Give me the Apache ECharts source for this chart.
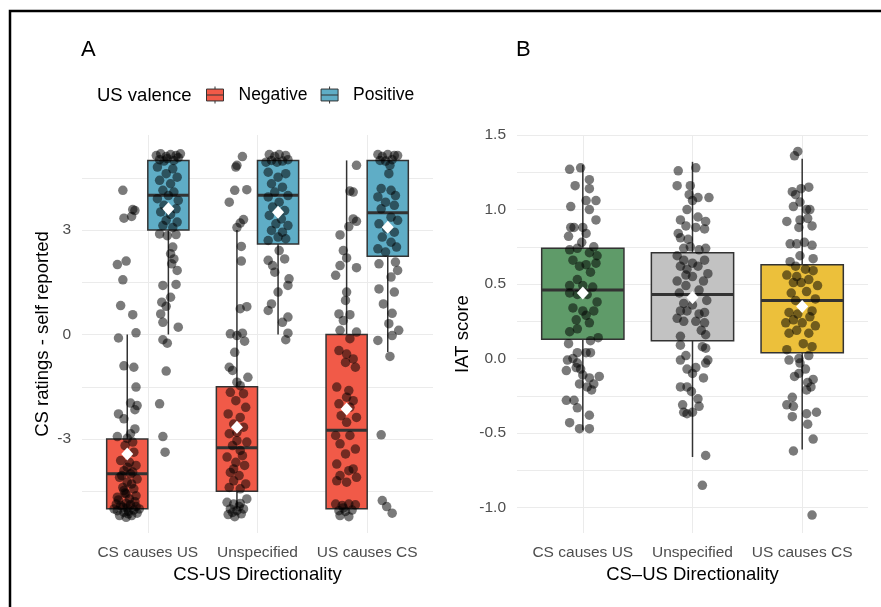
<!DOCTYPE html>
<html>
<head>
<meta charset="utf-8">
<script src="https://cdn.jsdelivr.net/npm/echarts@6/dist/echarts.min.js"></script>
<style>
  html, body { margin: 0; padding: 0; background: #fff; }
  #chart { width: 881px; height: 607px; }
</style>
</head>
<body>
<div id="chart"></div>
<script>
var myChart = echarts.init(document.getElementById('chart'));
var FONT = 'Liberation Sans, Arial, sans-serif';

var categories = ['CS causes US', 'Unspecified', 'US causes CS'];
var valence = ['Negative', 'Positive'];

// panel A boxes: [min, Q1, median, Q3, max] per category
var boxNeg = [[-5, -5, -4, -3, 0], [-5, -4.5, -3.25, -1.5, 3], [-5, -5, -2.75, 0, 5]];
var boxPos = [[0, 3, 4, 5, 5], [0, 2.6, 4, 5, 5], [-0.5, 2.25, 3.5, 5, 5]];
var meanNeg = [-3.43, -2.66, -2.14];
var meanPos = [3.61, 3.51, 3.08];

// panel B boxes
var boxIAT = [[-0.48, 0.13, 0.46, 0.74, 1.30], [-0.66, 0.12, 0.43, 0.71, 1.32], [-0.61, 0.04, 0.39, 0.63, 1.34]];
var meanIAT = [0.44, 0.41, 0.35];

// jittered observations: [x jitter, value]
var ptsNeg = [
  [[-0.04,4.14],[0.05,3.59],[0.07,3.56],[-0.03,3.34],[0.04,3.39],[-0.09,2.01],[-0.01,2.11],[-0.04,1.57],[-0.06,0.83],[0.05,0.57],[-0.08,-0.10],[0.08,0.05],
   [-0.03,-0.90],[0.06,-0.94],[0.08,-1.51],[0.03,-1.97],[0.09,-2.04],[0.07,-2.16],[-0.08,-2.28],[-0.03,-2.42],[0.07,-2.71],[0.03,-2.85],[-0.09,-2.93],[0,-2.98],
   [0.05,-3.09],[-0.02,-3.19],[0.06,-3.38],[-0.06,-3.62],[0.02,-3.67],[0.08,-3.76],[-0.03,-3.91],[0.03,-4.00],[-0.07,-4.10],[0.09,-4.15],[0,-4.24],[-0.04,-4.39],
   [0.06,-4.43],[-0.01,-4.58],[-0.09,-4.67],[0.08,-4.63],[-0.10,-4.87],[-0.06,-4.91],[-0.01,-4.85],[0.03,-4.89],[0.08,-4.94],[0.11,-5.01],[-0.09,-5.06],
   [-0.03,-5.11],[0.01,-5.08],[0.06,-5.04],[-0.07,-5.20],[-0.01,-5.25],[0.04,-5.20],[0.09,-5.13],[-0.04,-4.96],[0,-4.98],[-0.12,-5.01],[0,-3.81],[0.04,-4.29],
   [-0.03,-4.48],[0.02,-4.72],[-0.05,-4.05],[0.05,-3.95],[-0.02,-4.55],[0.07,-4.80],[-0.08,-4.75],[0.01,-5.15]],
  [[0.05,5.11],[0,4.86],[-0.01,4.81],[-0.02,4.14],[0.09,4.16],[-0.07,3.80],[0.06,3.30],[0.03,3.20],[0,3.07],[0.04,2.53],[0.04,2.11],[0.09,0.80],[0.03,0.74],
   [-0.06,0.02],[0,-0.03],[0.05,0.04],[0.07,-0.19],[-0.02,-0.51],[-0.07,-0.94],[-0.04,-1.03],[0.10,-1.23],[0.03,-1.47],[0,-1.37],
   [-0.06,-1.66],[0.06,-1.70],[-0.01,-1.90],[0.08,-2.09],[-0.08,-2.28],[0.03,-2.38],[-0.03,-2.57],[0.06,-2.66],[-0.07,-2.85],[0,-2.81],[0.09,-3.09],[-0.04,-3.19],
   [0.03,-3.33],[-0.09,-3.52],[-0.01,-3.67],[0.07,-3.76],[-0.06,-3.96],[0.02,-4.05],[-0.03,-4.20],[0.08,-4.29],[-0.07,-4.39],[0.03,-4.43],[0,-3.05],[0.05,-3.48],
   [-0.03,-3.86],[-0.09,-4.82],[-0.03,-4.87],[0.03,-4.85],[0.09,-4.72],[-0.06,-5.01],[0,-5.06],[0.06,-5.01],[-0.08,-5.17],[-0.02,-5.23],[0.04,-5.15],[-0.04,-5.11],[0.02,-4.94]],
  [[0.09,4.86],[0.03,4.12],[0.06,4.09],[0.06,3.32],[0.09,3.25],[0.02,3.10],[-0.06,2.86],[-0.03,2.41],[0,2.20],[-0.06,1.98],[0.09,1.92],[-0.10,1.70],[0,1.22],
   [-0.01,0.98],[-0.07,0.59],[-0.03,0.40],[0.03,0.57],[-0.06,0.12],[0.09,0.07],[0.03,-0.12],[-0.07,-0.46],[0,-0.56],[0.06,-0.70],[-0.01,-0.80],[0.08,-0.94],
   [-0.09,-1.51],[0.02,-1.61],[0,-1.80],[0.06,-1.90],[-0.07,-1.99],[0.03,-2.09],[-0.05,-2.33],[0.09,-2.38],[0,-2.52],[-0.10,-2.90],[0.03,-2.90],[-0.06,-3.14],
   [0.08,-3.29],[-0.01,-3.43],[-0.09,-3.72],[0.06,-3.86],[0.02,-3.91],[-0.06,-4.05],[0.09,-4.10],[-0.09,-4.20],[0,-4.24],[-0.10,-4.87],[-0.04,-4.91],[0.02,-4.87],
   [0.08,-4.89],[-0.07,-5.06],[-0.01,-5.08],[0.05,-5.04],[-0.06,-5.20],[0.02,-5.23],[-0.03,-4.98]]
];
var ptsPos = [
  [[-0.11,5.14],[-0.07,5.19],[-0.02,5.11],[0.02,5.17],[0.07,5.14],[0.11,5.19],[-0.08,5.02],[-0.01,5.05],[0.05,5.00],[0.09,5.08],[-0.04,4.98],
   [-0.10,4.81],[0.04,4.76],[-0.02,4.62],[0.08,4.52],[-0.08,4.43],[0.02,4.33],[-0.05,4.14],[0.05,4.09],[0,3.99],[-0.10,3.90],[0.09,3.85],[-0.04,3.71],
   [0.07,3.61],[-0.07,3.52],[0.02,3.45],[-0.02,3.28],[0.08,3.23],[-0.05,3.13],[0.04,3.07],[-0.08,2.89],[-0.01,2.84],[0.07,2.87],
   [0.04,2.51],[0.02,2.32],[0.05,2.17],[0.03,2.03],[0.08,1.84],[-0.05,1.41],[0.07,1.44],[0.02,1.07],[-0.06,0.93],[-0.02,0.81],[-0.07,0.59],[-0.05,0.35],
   [0.09,0.21],[-0.05,-0.15],[-0.01,-0.25],[-0.02,-1.05],[-0.08,-1.99],[-0.05,-2.93],[-0.03,-3.38]],
  [[-0.08,5.17],[-0.03,5.11],[0.01,5.17],[0.07,5.14],[-0.06,5.00],[0.04,4.98],[0.09,5.02],[-0.11,4.95],[-0.01,4.95],
   [-0.09,4.66],[0.07,4.62],[0,4.52],[-0.06,4.33],[0.04,4.23],[-0.03,4.09],[0.09,3.99],[-0.09,3.95],[0.01,3.80],[-0.05,3.66],[0.06,3.56],[-0.08,3.42],
   [0.03,3.32],[-0.02,3.18],[0.09,3.13],[-0.06,2.99],[0.04,2.94],[0,2.80],[-0.09,2.70],[0.07,2.75],
   [0.01,2.41],[0.06,2.17],[-0.09,2.13],[-0.05,1.98],[-0.03,1.79],[0.10,1.60],[0.09,1.41],[0,1.22],[-0.06,0.88],[-0.09,0.69],[0.04,0.35],[0.09,0.50],[0.09,0.04],[0.07,-0.15]],
  [[-0.09,5.17],[-0.05,5.11],[0,5.17],[0.06,5.14],[0.09,5.14],[-0.07,5.00],[-0.02,4.98],[0.04,5.02],[0.02,4.86],[0.01,4.62],
   [-0.06,4.19],[0.03,4.14],[0.07,3.99],[-0.09,3.95],[-0.02,3.80],[0.06,3.71],[-0.06,3.61],[0.03,3.37],[0.09,3.28],[-0.08,3.18],[-0.01,3.04],[0.06,2.94],
   [-0.05,2.80],[0.03,2.65],[0.08,2.51],[-0.09,2.46],[-0.02,2.37],[-0.08,2.03],[0.07,2.08],[0.09,1.84],[0.03,1.65],[-0.08,1.31],[0.06,1.22],[-0.04,0.88],
   [0.04,0.61],[0.01,0.31],[0.10,0.12],[0.04,-0.03],[-0.09,-0.17],[0.02,-0.63],[-0.06,-2.88],[-0.05,-4.77],[-0.01,-4.94],[0.04,-5.13]]
];
var ptsIAT = [
  [[-0.12,1.27],[-0.02,1.28],[-0.07,1.16],[0.06,1.20],[0.06,1.14],[0.03,1.06],[0.12,1.06],[-0.11,1.02],[0.06,1.00],[0.12,0.93],[-0.11,0.88],[0,0.88],
   [0.03,0.84],[-0.13,0.82],[-0.08,0.88],[-0.01,0.78],[-0.12,0.73],[-0.05,0.74],[0.10,0.75],[0.06,0.71],[0.13,0.69],[-0.09,0.66],[-0.03,0.62],[0.03,0.63],
   [0.12,0.64],[0.07,0.58],[-0.05,0.53],[-0.12,0.49],[0,0.49],[0.09,0.48],[-0.12,0.44],[-0.05,0.43],[0.04,0.43],[0.13,0.38],[-0.09,0.34],[0,0.32],[0.10,0.32],
   [-0.06,0.26],[0.03,0.29],[-0.12,0.18],[-0.05,0.20],[0.06,0.24],[0.14,0.14],[0.07,0.12],[-0.13,0.10],[-0.05,0.04],[0.03,0.04],[0.07,0.04],[-0.14,-0.01],
   [-0.05,-0.03],[-0.09,0.00],[-0.02,-0.07],[-0.06,-0.06],[-0.15,-0.08],[0,-0.11],[0.06,-0.13],[0.15,-0.12],[-0.03,-0.17],[0.04,-0.19],[0.10,-0.17],[0.08,-0.21],
   [-0.15,-0.28],[-0.08,-0.28],[-0.05,-0.33],[0.06,-0.38],[-0.12,-0.43],[-0.03,-0.47],[0.06,-0.47]],
  [[-0.13,1.26],[0.03,1.28],[-0.14,1.16],[-0.02,1.16],[-0.03,1.10],[0,1.06],[0.05,1.08],[0.15,1.08],[-0.05,1.00],[-0.11,0.93],[0.05,0.95],[0.12,0.92],
   [-0.06,0.89],[0.03,0.88],[0.11,0.87],[-0.13,0.84],[-0.11,0.81],[-0.04,0.80],[0.12,0.74],[-0.08,0.74],[-0.02,0.75],[0.06,0.73],[-0.14,0.69],[-0.08,0.66],
   [0,0.64],[0.11,0.66],[-0.11,0.62],[-0.05,0.60],[0.05,0.62],[0.14,0.57],[-0.06,0.56],[0,0.55],[-0.14,0.52],[0.10,0.52],[-0.06,0.49],[-0.12,0.44],[0.06,0.46],
   [0.13,0.39],[-0.08,0.37],[0,0.36],[0.11,0.31],[-0.11,0.32],[-0.05,0.32],[0.06,0.30],[-0.14,0.27],[-0.08,0.25],[0.03,0.25],[0.11,0.24],[0.08,0.19],[0.12,0.16],
   [-0.11,0.15],[0.09,0.08],[0.12,0.07],[-0.11,0.09],[-0.11,-0.01],[-0.06,0.02],[0.14,-0.01],[0.12,-0.03],[-0.05,-0.07],[0.03,-0.06],[0,-0.10],[0.10,-0.13],
   [-0.11,-0.19],[-0.05,-0.19],[-0.01,-0.22],[-0.09,-0.31],[0.05,-0.27],[0.06,-0.32],[-0.08,-0.36],[-0.05,-0.37],[0,-0.36],[0.12,-0.65],[0.09,-0.85]],
  [[-0.07,1.36],[-0.04,1.39],[-0.09,1.12],[-0.06,1.10],[-0.01,1.14],[0.06,1.15],[-0.02,1.05],[-0.08,1.02],[0.04,1.00],[0.07,1.00],[-0.14,0.92],[-0.02,0.93],
   [0.05,0.94],[-0.03,0.88],[0.09,0.89],[-0.11,0.77],[-0.05,0.77],[0.02,0.78],[0.09,0.76],[-0.02,0.69],[0.10,0.67],[-0.11,0.65],[-0.06,0.62],[0.03,0.60],
   [0.10,0.59],[-0.14,0.56],[-0.05,0.55],[0.06,0.53],[0.14,0.49],[-0.08,0.51],[-0.01,0.51],[-0.10,0.44],[0.04,0.45],[0.12,0.40],[-0.06,0.39],[-0.12,0.31],
   [-0.04,0.30],[0.09,0.32],[0.07,0.28],[0.12,0.22],[-0.15,0.24],[-0.08,0.26],[0,0.24],[-0.12,0.17],[-0.05,0.19],[0.06,0.17],[-0.14,0.06],[0.01,0.10],
   [0.09,0.08],[-0.12,-0.01],[-0.03,0.00],[0.06,0.02],[-0.02,-0.03],[0.03,-0.07],[-0.07,-0.12],[-0.03,-0.10],[0.10,-0.14],[0.05,-0.16],[0.08,-0.19],[0.04,-0.21],
   [-0.09,-0.26],[-0.14,-0.31],[-0.08,-0.32],[0.04,-0.37],[0.13,-0.36],[-0.09,-0.39],[0.05,-0.44],[0.10,-0.54],[-0.08,-0.62],[0.09,-1.05]]
];

var colNeg = '#f15a48';
var colPos = '#5fadc6';
var colIAT = ['#5f9b69', '#c2c2c2', '#ecc03b'];
var DODGE = 0.1875;

function boxRenderer(halfWidth) {
  return function (params, api) {
    var x = api.value(0);
    var lo = api.coord([x, api.value(1)]);
    var q1 = api.coord([x, api.value(2)]);
    var md = api.coord([x, api.value(3)]);
    var q3 = api.coord([x, api.value(4)]);
    var hi = api.coord([x, api.value(5)]);
    var w = api.size([halfWidth * 2, 0])[0];
    var line = { stroke: '#333', lineWidth: 1.5 };
    return {
      type: 'group',
      children: [
        { type: 'line', shape: { x1: lo[0], y1: lo[1], x2: q1[0], y2: q1[1] }, style: line },
        { type: 'line', shape: { x1: hi[0], y1: hi[1], x2: q3[0], y2: q3[1] }, style: line },
        { type: 'rect', shape: { x: q3[0] - w / 2, y: q3[1], width: w, height: q1[1] - q3[1] },
          style: { fill: api.visual('color'), stroke: '#333', lineWidth: 1.5 } },
        { type: 'line', shape: { x1: md[0] - w / 2, y1: md[1], x2: md[0] + w / 2, y2: md[1] },
          style: { stroke: '#333', lineWidth: 3 } }
      ]
    };
  };
}

function boxData(boxes, shift, colors) {
  return boxes.map(function (b, i) {
    var item = { value: [i + 1 + shift].concat(b) };
    if (colors) item.itemStyle = { color: colors[i] };
    return item;
  });
}
function jitterData(groups, shift) {
  var out = [];
  groups.forEach(function (pts, i) {
    pts.forEach(function (p) { out.push([i + 1 + shift + p[0], p[1]]); });
  });
  return out;
}
function meanData(means, shift) {
  return means.map(function (m, i) { return [i + 1 + shift, m]; });
}

var gridLine = { show: true, lineStyle: { color: '#ebebeb', width: 1 } };
function xAxisOpt(idx, name) {
  return {
    type: 'value', gridIndex: idx, min: 0.4, max: 3.6,
    name: name, nameLocation: 'middle', nameGap: 32,
    nameTextStyle: { fontFamily: FONT, fontSize: 18.5, color: '#000' },
    axisLine: { show: false },
    axisTick: { show: false, customValues: [1, 2, 3] },
    axisLabel: {
      customValues: [1, 2, 3], margin: 12,
      fontFamily: FONT, fontSize: 15.5, color: '#4d4d4d',
      formatter: function (v) { return categories[Math.round(v) - 1]; }
    },
    splitLine: gridLine
  };
}
function yAxisOpt(idx, name, min, max, labels, lines, gap, fmt) {
  return {
    type: 'value', gridIndex: idx, min: min, max: max,
    name: name, nameLocation: 'middle', nameGap: gap,
    nameTextStyle: { fontFamily: FONT, fontSize: 18.5, color: '#000' },
    axisLine: { show: false },
    axisTick: { show: false, customValues: lines },
    axisLabel: {
      customValues: labels, margin: 11,
      fontFamily: FONT, fontSize: 15.5, color: '#4d4d4d',
      formatter: fmt
    },
    splitLine: gridLine
  };
}

var option = {
  animation: false,
  backgroundColor: '#fff',
  title: [
    { text: 'A', left: 81, top: 39, padding: 0, textStyle: { fontFamily: FONT, fontSize: 22, fontWeight: 'normal', color: '#000' } },
    { text: 'B', left: 516, top: 39, padding: 0, textStyle: { fontFamily: FONT, fontSize: 22, fontWeight: 'normal', color: '#000' } },
    { text: 'US valence', left: 97, top: 86, padding: 0, textStyle: { fontFamily: FONT, fontSize: 18.5, fontWeight: 'normal', color: '#000' } }
  ],
  legend: {
    data: valence,
    left: 206, top: 86, padding: 0,
    itemWidth: 17, itemHeight: 17, itemGap: 13,
    selectedMode: false,
    icon: 'path://M0,3H20V17H0Z M0,10H20 M10,0V3 M10,17V20',
    itemStyle: { borderColor: '#333', borderWidth: 1 },
    textStyle: { fontFamily: FONT, fontSize: 17.5, color: '#000', padding: [0, 0, 0, 10] }
  },
  grid: [
    { left: 82, right: 448, top: 135, bottom: 74, outerBoundsMode: 'none' },
    { left: 517, right: 13, top: 135, bottom: 74, outerBoundsMode: 'none' }
  ],
  xAxis: [xAxisOpt(0, 'CS-US Directionality'), xAxisOpt(1, 'CS\u2013US Directionality')],
  yAxis: [
    yAxisOpt(0, 'CS ratings - self reported', -5.7, 5.73, [-3, 0, 3], [-4.5, -3, -1.5, 0, 1.5, 3, 4.5], 30,
      function (v) { return String(v); }),
    yAxisOpt(1, 'IAT score', -1.17, 1.5, [-1, -0.5, 0, 0.5, 1, 1.5],
      [-1, -0.75, -0.5, -0.25, 0, 0.25, 0.5, 0.75, 1, 1.25, 1.5], 45,
      function (v) { return v.toFixed(1); })
  ],
  graphic: [
    { type: 'polyline', silent: true, shape: { points: [[10, 607], [10, 11], [881, 11]] },
      style: { stroke: '#000', lineWidth: 2.5, fill: null } }
  ],
  series: [
    { name: 'Negative', type: 'custom', xAxisIndex: 0, yAxisIndex: 0, z: 2,
      itemStyle: { color: colNeg, borderColor: '#333' },
      renderItem: boxRenderer(DODGE), encode: { x: 0, y: [1, 2, 3, 4, 5] },
      data: boxData(boxNeg, -DODGE) },
    { name: 'Positive', type: 'custom', xAxisIndex: 0, yAxisIndex: 0, z: 2,
      itemStyle: { color: colPos, borderColor: '#333' },
      renderItem: boxRenderer(DODGE), encode: { x: 0, y: [1, 2, 3, 4, 5] },
      data: boxData(boxPos, DODGE) },
    { name: 'IAT', type: 'custom', xAxisIndex: 1, yAxisIndex: 1, z: 2,
      renderItem: boxRenderer(0.375), encode: { x: 0, y: [1, 2, 3, 4, 5] },
      data: boxData(boxIAT, 0, colIAT) },
    { name: 'obsNeg', type: 'scatter', xAxisIndex: 0, yAxisIndex: 0, z: 3,
      symbolSize: 9.5, itemStyle: { color: '#000', opacity: 0.52 },
      data: jitterData(ptsNeg, -DODGE) },
    { name: 'obsPos', type: 'scatter', xAxisIndex: 0, yAxisIndex: 0, z: 3,
      symbolSize: 9.5, itemStyle: { color: '#000', opacity: 0.52 },
      data: jitterData(ptsPos, DODGE) },
    { name: 'obsIAT', type: 'scatter', xAxisIndex: 1, yAxisIndex: 1, z: 3,
      symbolSize: 9.5, itemStyle: { color: '#000', opacity: 0.52 },
      data: jitterData(ptsIAT, 0) },
    { name: 'meanA', type: 'scatter', xAxisIndex: 0, yAxisIndex: 0, z: 4,
      symbol: 'diamond', symbolSize: [12, 13], itemStyle: { color: '#fff', opacity: 1 },
      data: meanData(meanNeg, -DODGE).concat(meanData(meanPos, DODGE)) },
    { name: 'meanB', type: 'scatter', xAxisIndex: 1, yAxisIndex: 1, z: 4,
      symbol: 'diamond', symbolSize: [12, 13], itemStyle: { color: '#fff', opacity: 1 },
      data: meanData(meanIAT, 0) }
  ]
};
myChart.setOption(option);
window.addEventListener('resize', function () {
    myChart.resize();
});
</script>
</body>
</html>
